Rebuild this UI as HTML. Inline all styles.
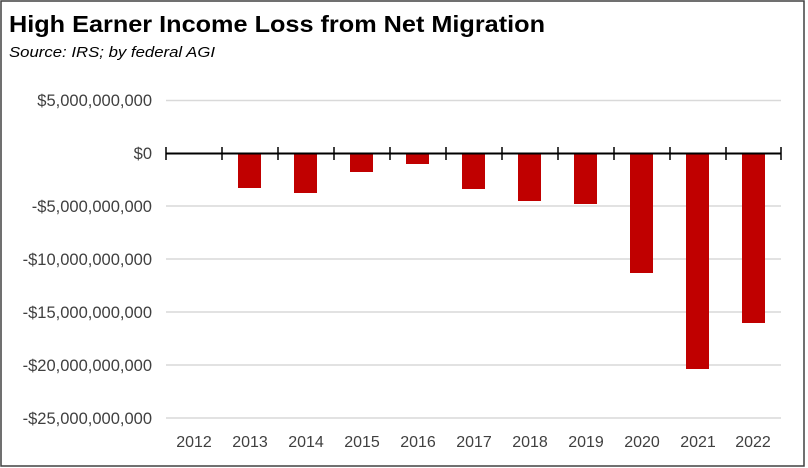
<!DOCTYPE html>
<html><head><style>
body{margin:0;background:#fff;}
svg{display:block;font-family:"Liberation Sans",sans-serif;}
</style></head><body>
<svg width="808" height="468" xmlns="http://www.w3.org/2000/svg">
<rect x="1" y="1" width="803" height="465" fill="#fff" stroke="#404040" stroke-width="1.5"/>
<text x="9" y="32" font-size="23" font-weight="bold" fill="#000" textLength="536" lengthAdjust="spacingAndGlyphs">High Earner Income Loss from Net Migration</text>
<text x="9" y="57" font-size="15" font-style="italic" fill="#000" textLength="206" lengthAdjust="spacingAndGlyphs">Source:  IRS; by federal AGI</text>
<g stroke="#d9d9d9" stroke-width="1.5">
<line x1="166" x2="781" y1="100.5" y2="100.5"/>
<line x1="166" x2="781" y1="206" y2="206"/>
<line x1="166" x2="781" y1="259" y2="259"/>
<line x1="166" x2="781" y1="312" y2="312"/>
<line x1="166" x2="781" y1="365" y2="365"/>
<line x1="166" x2="781" y1="418" y2="418"/>
</g>
<g fill="#c00000">
<rect x="238" y="154" width="23" height="34"/>
<rect x="294" y="154" width="23" height="39"/>
<rect x="350" y="154" width="23" height="18"/>
<rect x="406" y="154" width="23" height="10"/>
<rect x="462" y="154" width="23" height="35"/>
<rect x="518" y="154" width="23" height="47"/>
<rect x="574" y="154" width="23" height="50"/>
<rect x="630" y="154" width="23" height="119"/>
<rect x="686" y="154" width="23" height="215"/>
<rect x="742" y="154" width="23" height="169"/>
</g>
<line x1="166" x2="781" y1="153.5" y2="153.5" stroke="#000" stroke-width="2"/>
<g stroke="#000" stroke-width="1.5">
<line x1="166" x2="166" y1="147" y2="160"/><line x1="222" x2="222" y1="147" y2="160"/><line x1="278" x2="278" y1="147" y2="160"/><line x1="334" x2="334" y1="147" y2="160"/><line x1="390" x2="390" y1="147" y2="160"/><line x1="446" x2="446" y1="147" y2="160"/><line x1="502" x2="502" y1="147" y2="160"/><line x1="558" x2="558" y1="147" y2="160"/><line x1="614" x2="614" y1="147" y2="160"/><line x1="670" x2="670" y1="147" y2="160"/><line x1="726" x2="726" y1="147" y2="160"/><line x1="781" x2="781" y1="147" y2="160"/>
</g>
<g font-size="16.5" fill="#404040" text-anchor="end">
<text x="152" y="106">$5,000,000,000</text>
<text x="152" y="159">$0</text>
<text x="152" y="212">-$5,000,000,000</text>
<text x="152" y="265">-$10,000,000,000</text>
<text x="152" y="318">-$15,000,000,000</text>
<text x="152" y="371">-$20,000,000,000</text>
<text x="152" y="424">-$25,000,000,000</text>
</g>
<g font-size="16" fill="#404040" text-anchor="middle">
<text x="194" y="447">2012</text><text x="250" y="447">2013</text><text x="306" y="447">2014</text><text x="362" y="447">2015</text><text x="418" y="447">2016</text><text x="474" y="447">2017</text><text x="530" y="447">2018</text><text x="586" y="447">2019</text><text x="642" y="447">2020</text><text x="698" y="447">2021</text><text x="753" y="447">2022</text>
</g>
</svg>
</body></html>
